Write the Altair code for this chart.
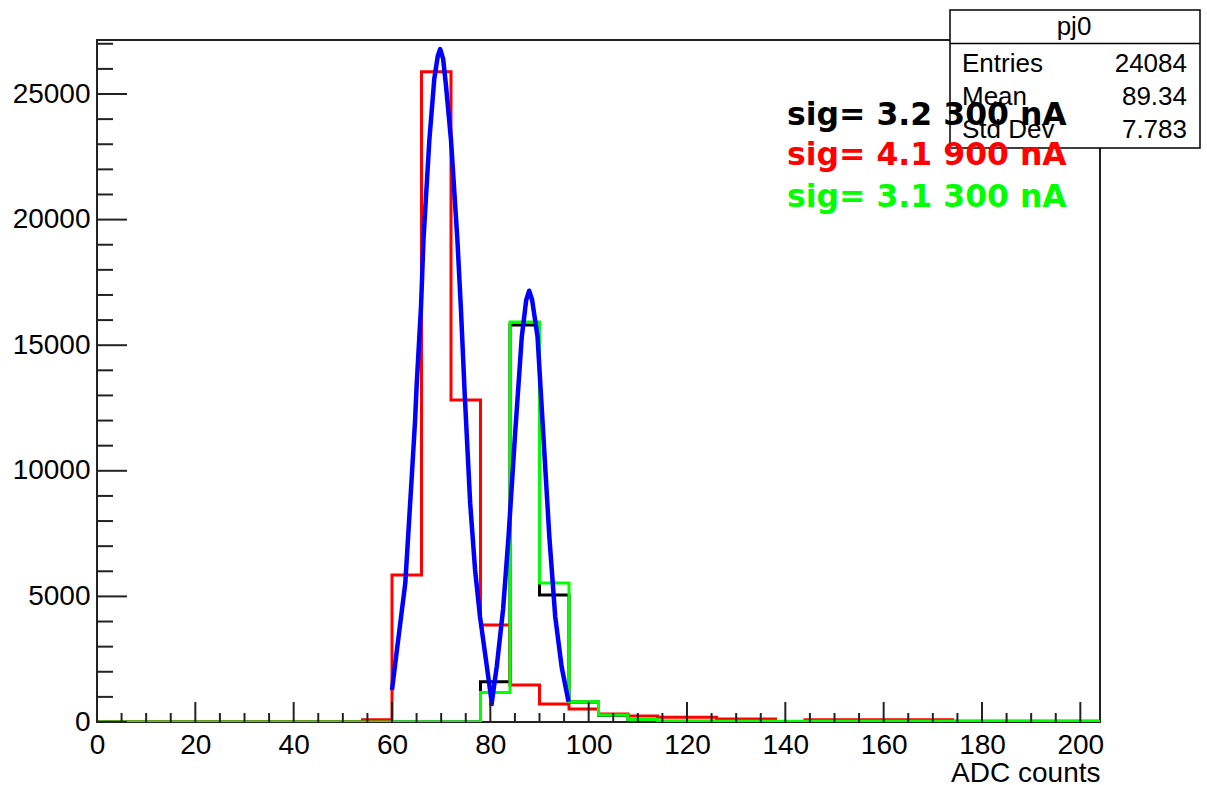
import altair as alt
import pandas as pd

# ---------------- data ----------------
BIN_WIDTH = 6
N_BINS = 34          # 0 .. 204
bin_edges = [i * BIN_WIDTH for i in range(N_BINS + 1)]

# counts per bin (bin i spans [6i, 6i+6))
black_counts = [0] * 13 + [1600, 15800, 5060, 800, 270, 100, 25, 25, 25, 25, 0] + [25] * 10
red_counts = [0] * 9 + [90, 5850, 25890, 12820, 3860, 1470, 720, 520, 320, 240, 190, 190,
                        120, 120, 0, 90, 90, 90, 90, 90, 0, 0, 0, 0, 0]
green_counts = [0] * 13 + [1170, 15920, 5530, 810, 280, 100] + [25] * 15

fit1_x = [60.0, 61.0, 62.7, 64.0, 64.7, 65.0, 65.9, 66.4, 67.6, 68.6, 69.3, 69.8, 70.4, 71.0,
          72.0, 73.3, 74.0, 74.8, 75.9, 76.9, 77.9, 79.3, 80.3]
fit1_y = [1270, 2870, 5520, 9700, 12020, 13350, 16530, 19190, 23170, 25600, 26500, 26790, 26400,
          25300, 23170, 19190, 16530, 13000, 8710, 6050, 4190, 2200, 760]
fit2_x = [80.2, 81.3, 82.6, 83.7, 85.0, 86.4, 87.3, 87.9, 88.5, 89.6, 90.8, 92.0, 93.2, 94.5, 95.9]
fit2_y = [640, 2200, 4500, 7380, 11360, 15340, 16800, 17170, 16800, 15340, 11360, 7380, 4190,
          2200, 810]

sig_labels = ["sig= 3.2 300 nA", "sig= 4.1 900 nA", "sig= 3.1 300 nA"]
sig_colors = ["#000000", "#ff0000", "#00ff00"]

stats_title = "pj0"
stats_names = ["Entries", "Mean", "Std Dev"]
stats_values = ["24084", "89.34", "7.783"]

x_major = list(range(0, 201, 20))
x_minor = [v for v in range(0, 201, 5) if v % 20 != 0]
y_major = list(range(0, 25001, 5000))
y_minor = [v for v in range(0, 27001, 1000) if v % 5000 != 0]

X_DOMAIN = [0, 204]
Y_DOMAIN = [0, 27150]

W, H = 1003, 682
FONT = "Liberation Sans"
AX = "#222222"

xs = alt.Scale(domain=X_DOMAIN, nice=False, zero=False)
ys = alt.Scale(domain=Y_DOMAIN, nice=False)

X_AXIS = alt.Axis(
    values=x_major, ticks=False, domain=False, grid=False, labelFont=FONT,
    labelFontSize=28, labelColor="#000000", labelPadding=9, format="d", labelFlush=False,
    title="ADC counts", titleFont=FONT, titleFontSize=28, titleFontWeight="normal",
    titleColor="#000000", titleAlign="right", titleAnchor="end", titleX=W, titleY=59,
    titleBaseline="alphabetic")
Y_AXIS = alt.Axis(
    values=y_major, ticks=False, domain=False, grid=False, labelFont=FONT,
    labelFontSize=28, labelColor="#000000", labelPadding=7, format="d", labelFlush=False,
    title="")


def xq(field):
    return alt.X(field, type="quantitative", scale=xs, axis=X_AXIS)


def yq(field):
    return alt.Y(field, type="quantitative", scale=ys, axis=Y_AXIS)


def hist_df(counts):
    xs_ = bin_edges[:-1] + [bin_edges[-1]]
    ys_ = counts + [counts[-1]]
    return pd.DataFrame({"x": xs_, "y": ys_})


def hist_layer(counts, color):
    return alt.Chart(hist_df(counts)).mark_line(
        interpolate="step-after", color=color, strokeWidth=3, clip=True
    ).encode(x=xq("x"), y=yq("y"))


def fit_layer(fx, fy):
    df = pd.DataFrame({"x": fx, "y": fy})
    return alt.Chart(df).mark_line(color="#0000ff", strokeWidth=4.5, strokeJoin="round").encode(
        x=xq("x"), y=yq("y"))


def xtick_layer(vals, length):
    return alt.Chart(pd.DataFrame({"x": vals})).mark_rule(color=AX, strokeWidth=2).encode(
        x=xq("x"), y=alt.value(H), y2=alt.value(H - length))


def ytick_layer(vals, length):
    return alt.Chart(pd.DataFrame({"y": vals})).mark_rule(color=AX, strokeWidth=2).encode(
        y=yq("y"), x=alt.value(0), x2=alt.value(length))


layers = [
    hist_layer(black_counts, "#000000"),
    hist_layer(red_counts, "#ff0000"),
    hist_layer(green_counts, "#00ff00"),
    fit_layer(fit1_x, fit1_y),
    fit_layer(fit2_x, fit2_y),
    xtick_layer(x_major, 20),
    xtick_layer(x_minor, 9),
    ytick_layer(y_major, 30),
    ytick_layer(y_minor, 16),
]

# statistics box (top right, partly outside the frame)
box_x0, box_x1, box_y0, box_y1 = 853, 1103, -30, 108
one = pd.DataFrame({"a": [0]})
layers.append(alt.Chart(one).mark_rect(fill="#ffffff", stroke="#000000", strokeWidth=1.5).encode(
    x=alt.value(box_x0), x2=alt.value(box_x1), y=alt.value(box_y0), y2=alt.value(box_y1)))
layers.append(alt.Chart(one).mark_rule(color="#000000", strokeWidth=1.5).encode(
    x=alt.value(box_x0), x2=alt.value(box_x1), y=alt.value(3.5)))
layers.append(alt.Chart(one).mark_text(font=FONT, fontSize=26, color="#000000",
                                        align="center", baseline="alphabetic").encode(
    x=alt.value(977), y=alt.value(-5), text=alt.value(stats_title)))
row_y = [32, 65, 98]
for name, val, ry in zip(stats_names, stats_values, row_y):
    layers.append(alt.Chart(one).mark_text(font=FONT, fontSize=26, color="#000000",
                                            align="left", baseline="alphabetic").encode(
        x=alt.value(865), y=alt.value(ry), text=alt.value(name)))
    layers.append(alt.Chart(one).mark_text(font=FONT, fontSize=26, color="#000000",
                                            align="right", baseline="alphabetic").encode(
        x=alt.value(1090), y=alt.value(ry), text=alt.value(val)))

# sigma annotations
for lab, col, ty in zip(sig_labels, sig_colors, [85, 125, 167]):
    layers.append(alt.Chart(one).mark_text(font="DejaVu Sans", fontWeight="bold", fontSize=31.5,
                                            color=col, align="left", baseline="alphabetic").encode(
        x=alt.value(690), y=alt.value(ty), text=alt.value(lab)))

chart = alt.layer(*layers).properties(
    width=W, height=H,
    autosize=alt.AutoSizeParams(type="none"),
    padding={"left": 97, "top": 40, "right": 107, "bottom": 63},
    background="#ffffff",
).configure_view(stroke=AX, strokeWidth=2)

chart.save("out.html", embed_options={"renderer": "svg", "actions": False})
